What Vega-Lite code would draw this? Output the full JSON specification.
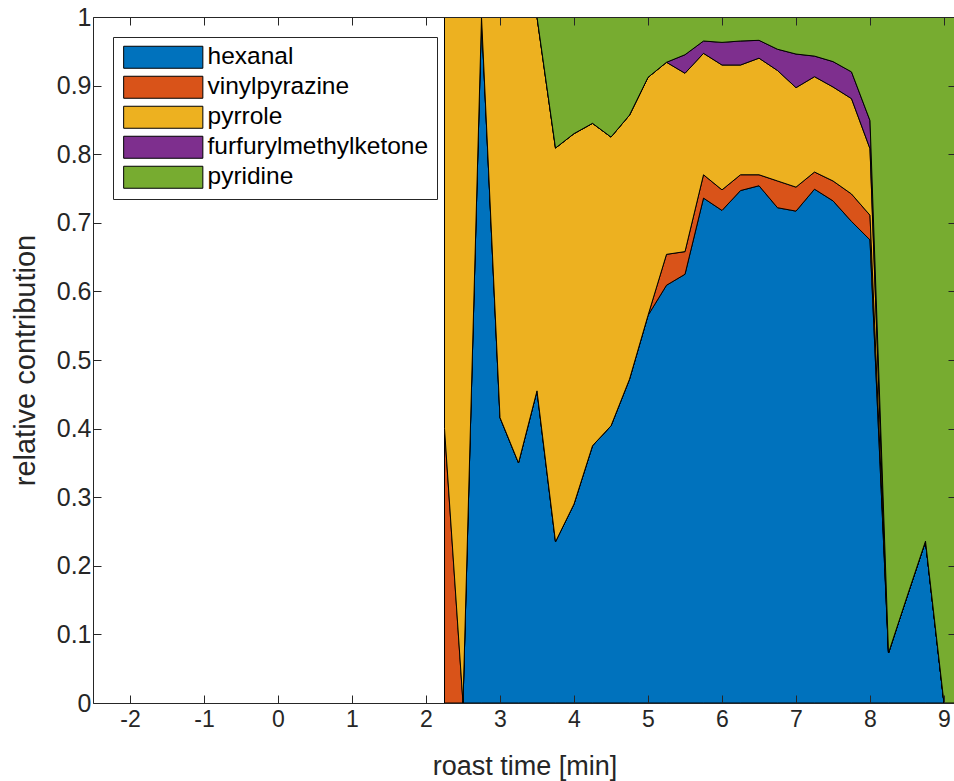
{
  "$schema": "https://vega.github.io/schema/vega-lite/v6.json",
  "autosize": {"type": "none"},
  "width": 863,
  "height": 686,
  "padding": {"left": 93, "top": 17, "right": 0, "bottom": 78},
  "background": "white",
  "config": {
    "view": {"stroke": null},
    "font": "Liberation Sans",
    "axis": {"labelFont": "Liberation Sans", "titleFont": "Liberation Sans", "titleFontWeight": "normal"},
    "legend": {"labelFont": "Liberation Sans"}
  },
  "datasets": {
    "series": [
      {"compound": "hexanal", "rank": 1},
      {"compound": "vinylpyrazine", "rank": 2},
      {"compound": "pyrrole", "rank": 3},
      {"compound": "furfurylmethylketone", "rank": 4},
      {"compound": "pyridine", "rank": 5}
    ]
  },
  "data": {
    "values": [
      {"t": 2.25, "hexanal": 0, "vinylpyrazine": 0.40, "pyrrole": 0.60, "furfurylmethylketone": 0, "pyridine": 0},
      {"t": 2.5, "hexanal": 0, "vinylpyrazine": 0, "pyrrole": 1.0, "furfurylmethylketone": 0, "pyridine": 0},
      {"t": 2.75, "hexanal": 1.0, "vinylpyrazine": 0, "pyrrole": 0, "furfurylmethylketone": 0, "pyridine": 0},
      {"t": 3.0, "hexanal": 0.416, "vinylpyrazine": 0, "pyrrole": 0.584, "furfurylmethylketone": 0, "pyridine": 0},
      {"t": 3.25, "hexanal": 0.350, "vinylpyrazine": 0, "pyrrole": 0.650, "furfurylmethylketone": 0, "pyridine": 0},
      {"t": 3.5, "hexanal": 0.455, "vinylpyrazine": 0, "pyrrole": 0.545, "furfurylmethylketone": 0, "pyridine": 0},
      {"t": 3.75, "hexanal": 0.235, "vinylpyrazine": 0, "pyrrole": 0.574, "furfurylmethylketone": 0, "pyridine": 0.191},
      {"t": 4.0, "hexanal": 0.290, "vinylpyrazine": 0, "pyrrole": 0.540, "furfurylmethylketone": 0, "pyridine": 0.170},
      {"t": 4.25, "hexanal": 0.375, "vinylpyrazine": 0, "pyrrole": 0.470, "furfurylmethylketone": 0, "pyridine": 0.155},
      {"t": 4.5, "hexanal": 0.404, "vinylpyrazine": 0, "pyrrole": 0.421, "furfurylmethylketone": 0, "pyridine": 0.175},
      {"t": 4.75, "hexanal": 0.472, "vinylpyrazine": 0, "pyrrole": 0.385, "furfurylmethylketone": 0, "pyridine": 0.143},
      {"t": 5.0, "hexanal": 0.565, "vinylpyrazine": 0, "pyrrole": 0.347, "furfurylmethylketone": 0, "pyridine": 0.088},
      {"t": 5.25, "hexanal": 0.609, "vinylpyrazine": 0.045, "pyrrole": 0.280, "furfurylmethylketone": 0, "pyridine": 0.066},
      {"t": 5.5, "hexanal": 0.625, "vinylpyrazine": 0.033, "pyrrole": 0.260, "furfurylmethylketone": 0.027, "pyridine": 0.055},
      {"t": 5.75, "hexanal": 0.736, "vinylpyrazine": 0.034, "pyrrole": 0.177, "furfurylmethylketone": 0.018, "pyridine": 0.035},
      {"t": 6.0, "hexanal": 0.718, "vinylpyrazine": 0.030, "pyrrole": 0.182, "furfurylmethylketone": 0.033, "pyridine": 0.037},
      {"t": 6.25, "hexanal": 0.747, "vinylpyrazine": 0.023, "pyrrole": 0.160, "furfurylmethylketone": 0.035, "pyridine": 0.035},
      {"t": 6.5, "hexanal": 0.754, "vinylpyrazine": 0.016, "pyrrole": 0.170, "furfurylmethylketone": 0.026, "pyridine": 0.034},
      {"t": 6.75, "hexanal": 0.722, "vinylpyrazine": 0.039, "pyrrole": 0.161, "furfurylmethylketone": 0.031, "pyridine": 0.047},
      {"t": 7.0, "hexanal": 0.717, "vinylpyrazine": 0.035, "pyrrole": 0.145, "furfurylmethylketone": 0.049, "pyridine": 0.054},
      {"t": 7.25, "hexanal": 0.749, "vinylpyrazine": 0.025, "pyrrole": 0.139, "furfurylmethylketone": 0.030, "pyridine": 0.057},
      {"t": 7.5, "hexanal": 0.732, "vinylpyrazine": 0.029, "pyrrole": 0.137, "furfurylmethylketone": 0.037, "pyridine": 0.065},
      {"t": 7.75, "hexanal": 0.702, "vinylpyrazine": 0.040, "pyrrole": 0.139, "furfurylmethylketone": 0.039, "pyridine": 0.080},
      {"t": 8.0, "hexanal": 0.675, "vinylpyrazine": 0.036, "pyrrole": 0.097, "furfurylmethylketone": 0.041, "pyridine": 0.151},
      {"t": 8.25, "hexanal": 0.073, "vinylpyrazine": 0, "pyrrole": 0, "furfurylmethylketone": 0, "pyridine": 0.927},
      {"t": 8.5, "hexanal": 0.155, "vinylpyrazine": 0, "pyrrole": 0, "furfurylmethylketone": 0, "pyridine": 0.845},
      {"t": 8.75, "hexanal": 0.236, "vinylpyrazine": 0, "pyrrole": 0, "furfurylmethylketone": 0, "pyridine": 0.764},
      {"t": 9.0, "hexanal": 0, "vinylpyrazine": 0, "pyrrole": 0, "furfurylmethylketone": 0, "pyridine": 1.0},
      {"t": 9.25, "hexanal": 0, "vinylpyrazine": 0, "pyrrole": 0, "furfurylmethylketone": 0, "pyridine": 1.0}
    ]
  },
  "transform": [
    {"fold": ["hexanal", "vinylpyrazine", "pyrrole", "furfurylmethylketone", "pyridine"], "as": ["compound", "contribution"]},
    {"lookup": "compound", "from": {"data": {"name": "series"}, "key": "compound", "fields": ["rank"]}}
  ],
  "layer": [
    {
      "mark": {"type": "area", "stroke": "black", "strokeWidth": 1, "opacity": 1, "clip": true, "interpolate": "linear"},
      "encoding": {
        "x": {
          "field": "t", "type": "quantitative",
          "scale": {"domain": [-2.5, 9.162], "nice": false, "zero": false},
          "axis": {
            "orient": "bottom", "values": [-2, -1, 0, 1, 2, 3, 4, 5, 6, 7, 8, 9],
            "labelExpr": "'' + datum.value",
            "title": "roast time [min]", "titleFontSize": 27, "titleColor": "#262626", "titlePadding": 22,
            "labelFontSize": 23, "labelColor": "#262626", "labelPadding": 13,
            "tickSize": -8, "tickColor": "#262626", "domainColor": "#262626", "grid": false, "zindex": 1
          }
        },
        "y": {
          "field": "contribution", "type": "quantitative", "stack": "zero",
          "scale": {"domain": [0, 1], "nice": false},
          "axis": {
            "orient": "left", "values": [0, 0.1, 0.2, 0.3, 0.4, 0.5, 0.6, 0.7, 0.8, 0.9, 1],
            "format": "~g",
            "title": "relative contribution", "titleFontSize": 29, "titleColor": "#262626", "titlePadding": 16,
            "labelFontSize": 25, "labelColor": "#262626", "labelPadding": 10,
            "tickSize": -8, "tickColor": "#262626", "domainColor": "#262626", "grid": false, "zindex": 1
          }
        },
        "color": {
          "field": "compound", "type": "nominal",
          "sort": ["hexanal", "vinylpyrazine", "pyrrole", "furfurylmethylketone", "pyridine"],
          "scale": {
            "domain": ["hexanal", "vinylpyrazine", "pyrrole", "furfurylmethylketone", "pyridine"],
            "range": ["#0072BD", "#D95319", "#EDB120", "#7E2F8E", "#77AC30"]
          },
          "legend": {
            "orient": "none", "legendX": 20, "legendY": 20,
            "title": null,
            "fillColor": "white", "strokeColor": "#262626", "padding": 8,
            "symbolType": "M-3.6,-1H3.6V1H-3.6Z", "symbolSize": 484,
            "symbolStrokeColor": "black", "symbolStrokeWidth": 1, "symbolOpacity": 1,
            "symbolOffset": 30, "labelOffset": 32, "labelLimit": 400,
            "labelFontSize": 24.5, "labelColor": "#000000", "rowPadding": 3
          }
        },
        "order": {"field": "rank", "type": "quantitative", "sort": "ascending"}
      }
    },
    {
      "mark": {"type": "point", "opacity": 0},
      "encoding": {
        "x": {
          "field": "t", "type": "quantitative",
          "axis": {
            "orient": "top", "values": [-2, -1, 0, 1, 2, 3, 4, 5, 6, 7, 8, 9],
            "labels": false, "title": null,
            "tickSize": -8, "tickColor": "#262626", "domainColor": "#262626", "grid": false, "zindex": 1
          }
        },
        "y": {
          "field": "contribution", "type": "quantitative",
          "axis": {
            "orient": "right", "values": [0, 0.1, 0.2, 0.3, 0.4, 0.5, 0.6, 0.7, 0.8, 0.9, 1],
            "labels": false, "title": null,
            "tickSize": -8, "tickColor": "#262626", "domainColor": "#262626", "grid": false, "zindex": 1
          }
        }
      }
    }
  ],
  "resolve": {"axis": {"x": "independent", "y": "independent"}}
}
